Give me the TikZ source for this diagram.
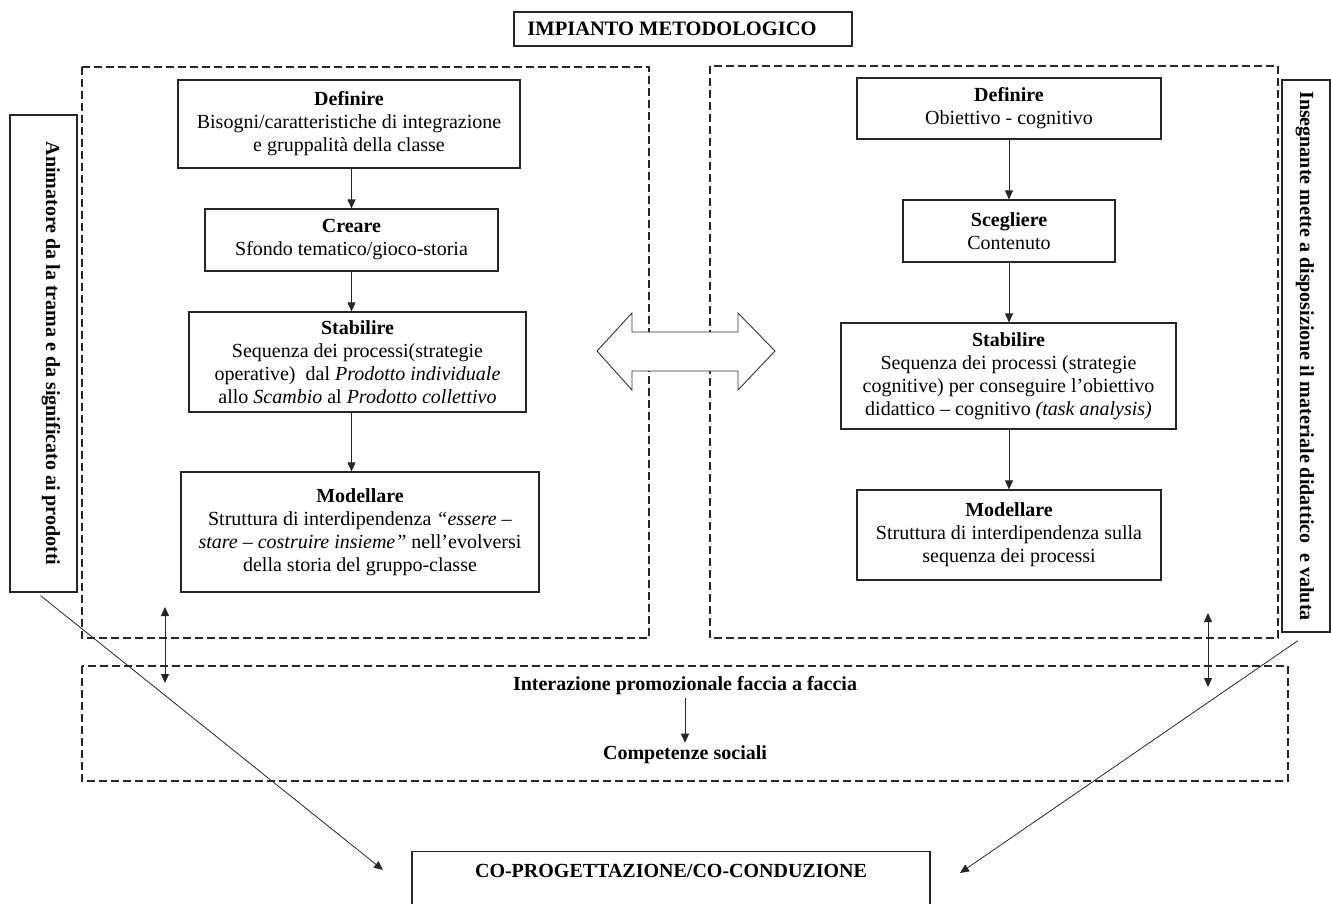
\documentclass[tikz,border=0pt]{standalone}
\usepackage{fontspec}
\setmainfont{Liberation Serif}
\usetikzlibrary{arrows.meta}

\begin{document}
\begin{tikzpicture}[
      x=1pt, y=-1pt,
      % the solid boxes with the steps:
      stepbox/.style={draw=black!85, line width=1.2pt, align=center, inner sep=2pt,
                      font=\fontsize{20}{23}\selectfont},
      sidebox/.style={stepbox, rotate=-90, inner ysep=0pt, font=\fontsize{20}{23}\selectfont\bfseries},
      label/.style={align=center, inner sep=3pt, font=\fontsize{20}{23}\selectfont\bfseries},
      dashbox/.style={draw=black!85, line width=1.1pt, dash pattern=on 8pt off 4pt},
      flow/.style={draw=black!85, line width=0.8pt, ->},
      >={Triangle[length=9pt,width=8pt]}
  ]
  \clip (0,0) rectangle (1331,904); % page = reference frame

  %%%%%%%%%%%%%%%%%%%%%%%%%%%%%%%%%%%%%%%%%%%%%%%%%%%%%%%%
  % TITLE
  %%%%%%%%%%%%%%%%%%%%%%%%%%%%%%%%%%%%%%%%%%%%%%%%%%%%%%%%
  \node[stepbox, font=\fontsize{20.5}{23}\selectfont\bfseries, minimum width=338pt, minimum height=34pt]
    (title) at (683,29) {IMPIANTO METODOLOGICO\hspace*{22pt}};

  %%%%%%%%%%%%%%%%%%%%%%%%%%%%%%%%%%%%%%%%%%%%%%%%%%%%%%%%
  % DASHED FRAMES
  %%%%%%%%%%%%%%%%%%%%%%%%%%%%%%%%%%%%%%%%%%%%%%%%%%%%%%%%
  \draw[dashbox] (82,67) rectangle (649,638);
  \draw[dashbox] (710,66) rectangle (1278,638);
  \draw[dashbox] (82,666) rectangle (1288,781);

  %%%%%%%%%%%%%%%%%%%%%%%%%%%%%%%%%%%%%%%%%%%%%%%%%%%%%%%%
  % (1) LEFT COLUMN => animatore
  %%%%%%%%%%%%%%%%%%%%%%%%%%%%%%%%%%%%%%%%%%%%%%%%%%%%%%%%
  \node[stepbox, minimum width=342pt, minimum height=88pt] (Ldef) at (349,124)
    {\textbf{Definire}\\Bisogni/caratteristiche di integrazione\\e gruppalità della classe};
  \node[stepbox, minimum width=293pt, minimum height=62pt] (Lcre) at (351.5,240)
    {\textbf{Creare}\\Sfondo tematico/gioco-storia};
  \node[stepbox, minimum width=337pt, minimum height=100pt] (Lsta) at (357.5,362)
    {\textbf{Stabilire}\\Sequenza dei processi(strategie\\operative)\ \ dal \textit{Prodotto individuale}\\allo \textit{Scambio} al \textit{Prodotto collettivo}};
  \node[stepbox, minimum width=358pt, minimum height=120pt] (Lmod) at (360,532)
    {\textbf{Modellare}\\Struttura di interdipendenza \textit{“essere –}\\\textit{stare – costruire insieme”} nell’evolversi\\della storia del gruppo-classe};

  \draw[flow] (Lcre.north |- Ldef.south) -- (Lcre.north);
  \draw[flow] (Lcre.south) -- (Lcre.south |- Lsta.north);
  \draw[flow] (Lcre.south |- Lsta.south) -- (Lcre.south |- Lmod.north);

  % side label, read from top to bottom
  \node[sidebox, minimum width=477pt, text height=31pt, text depth=36pt] (anim) at (43.5,353.5)
    {Animatore da la trama e da significato ai prodotti};

  %%%%%%%%%%%%%%%%%%%%%%%%%%%%%%%%%%%%%%%%%%%%%%%%%%%%%%%%
  % (2) RIGHT COLUMN => insegnante
  %%%%%%%%%%%%%%%%%%%%%%%%%%%%%%%%%%%%%%%%%%%%%%%%%%%%%%%%
  \node[stepbox, minimum width=304pt, minimum height=61pt] (Rdef) at (1009,108.5)
    {\textbf{Definire}\\Obiettivo - cognitivo};
  \node[stepbox, minimum width=212pt, minimum height=62pt] (Rsce) at (1009,231)
    {\textbf{Scegliere}\\Contenuto};
  \node[stepbox, minimum width=335pt, minimum height=106pt] (Rsta) at (1008.5,376)
    {\textbf{Stabilire}\\Sequenza dei processi (strategie\\cognitive) per conseguire l’obiettivo\\didattico – cognitivo \textit{(task analysis)}};
  \node[stepbox, minimum width=304pt, minimum height=90pt] (Rmod) at (1009,535)
    {\textbf{Modellare}\\Struttura di interdipendenza sulla\\sequenza dei processi};

  \draw[flow] (Rdef) -- (Rsce);
  \draw[flow] (Rsce) -- (Rsce.south |- Rsta.north);
  \draw[flow] (Rsce.south |- Rsta.south) -- (Rsce.south |- Rmod.north);

  % side label, read from top to bottom
  \node[sidebox, minimum width=552pt, text height=30pt, text depth=18pt] (inse) at (1306,356)
    {Insegnante mette a disposizione il materiale didattico\ \ e valuta};

  %%%%%%%%%%%%%%%%%%%%%%%%%%%%%%%%%%%%%%%%%%%%%%%%%%%%%%%%
  % HOLLOW DOUBLE ARROW between the columns
  %%%%%%%%%%%%%%%%%%%%%%%%%%%%%%%%%%%%%%%%%%%%%%%%%%%%%%%%
  \draw[draw=black!80, line width=0.9pt, fill=white]
    (597,351) -- (632,313) -- (632,332) -- (738,332) -- (738,313) -- (775,351)
    -- (738,390) -- (738,371) -- (632,371) -- (632,390) -- cycle;

  %%%%%%%%%%%%%%%%%%%%%%%%%%%%%%%%%%%%%%%%%%%%%%%%%%%%%%%%
  % BOTTOM FRAME
  %%%%%%%%%%%%%%%%%%%%%%%%%%%%%%%%%%%%%%%%%%%%%%%%%%%%%%%%
  \node[label] (inter) at (685,686) {Interazione promozionale faccia a faccia};
  \node[label] (comp)  at (685,755) {Competenze sociali};
  \draw[flow] (inter) -- (comp);

  \coordinate (Ltop) at (165,607);
  \coordinate (Lbot) at (165,683);
  \coordinate (Rtop) at (1208,613);
  \coordinate (Rbot) at (1208,687);
  \draw[flow, <->] (Ltop) -- (Lbot);
  \draw[flow, <->] (Rtop) -- (Rbot);

  %%%%%%%%%%%%%%%%%%%%%%%%%%%%%%%%%%%%%%%%%%%%%%%%%%%%%%%%
  % CO-PROGETTAZIONE (box runs off the page)
  %%%%%%%%%%%%%%%%%%%%%%%%%%%%%%%%%%%%%%%%%%%%%%%%%%%%%%%%
  \node[stepbox, anchor=north, font=\fontsize{20}{23}\selectfont\bfseries,
        minimum width=518pt, inner ysep=5pt, text height=21pt, text depth=40pt]
    (copro) at (671,851) {CO-PROGETTAZIONE/CO-CONDUZIONE};

  \coordinate (Lend) at (383,870);
  \coordinate (Rend) at (960,873);
  \draw[flow] (anim.east) ++(-3,3) -- (Lend);
  \draw[flow] (inse.east) ++(-8,8) -- (Rend);

\end{tikzpicture}
\end{document}
